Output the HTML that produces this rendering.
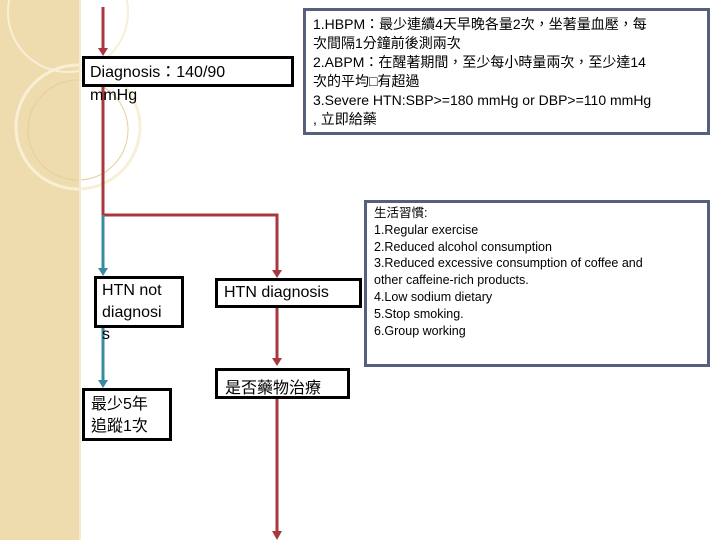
<!DOCTYPE html>
<html><head><meta charset="utf-8"><style>
body{margin:0;width:720px;height:540px;position:relative;background:#fff;overflow:hidden;font-family:"Liberation Sans","Noto Sans CJK TC",sans-serif;}
.b{position:absolute;box-sizing:border-box;background:#fff;}
.k{border:3px solid #000;}
.s{border:3px solid #56607e;}
</style></head><body>
<svg width="720" height="540" style="position:absolute;left:0;top:0">
<rect x="0" y="0" width="79" height="540" fill="#eedcae"/>
<circle cx="68" cy="12" r="60" fill="none" stroke="#f8efd6" stroke-width="2"/>
<circle cx="78" cy="127" r="62" fill="none" stroke="#f8efd6" stroke-width="3"/>
<circle cx="78" cy="130" r="50" fill="none" stroke="#e3cf9e" stroke-width="1"/>
<rect x="79" y="0" width="2" height="540" fill="#f3ead2"/>
<g stroke="#a8383d" stroke-width="3" fill="none">
<path d="M103 7V50"/><path d="M103 86V215H277V272"/><path d="M277 306V361"/><path d="M277 398V533"/>
</g>
<g fill="#a8383d">
<path d="M98 48L108 48L103 56Z"/><path d="M272 270L282 270L277 278Z"/><path d="M272 358L282 358L277 366Z"/><path d="M272 531L282 531L277 540Z"/>
</g>
<g stroke="#3b8aa3" stroke-width="3" fill="none"><path d="M103 215V272"/><path d="M103 327V382"/></g>
<g fill="#3b8aa3"><path d="M98 268L108 268L103 276Z"/><path d="M98 380L108 380L103 388Z"/></g>
</svg>
<div class="b k" style="left:82px;top:56px;width:212px;height:31px;"></div>
<div style="position:absolute;left:90px;top:61px;font-size:16px;line-height:23px;">Diagnosis：140/90<br>mmHg</div>
<div class="b k" style="left:94px;top:276px;width:90px;height:52px;"></div>
<div style="position:absolute;left:102px;top:280px;font-size:16px;line-height:22px;white-space:nowrap;">HTN not<br>diagnosi<br>s</div>
<div class="b k" style="left:82px;top:388px;width:90px;height:53px;font-size:16px;line-height:22px;padding:3px 0 0 6px;">最少5年<br>追蹤1次</div>
<div class="b k" style="left:215px;top:278px;width:147px;height:30px;font-size:16px;padding:3px 0 0 6px;">HTN diagnosis</div>
<div class="b k" style="left:215px;top:368px;width:135px;height:31px;font-size:16px;padding:3px 0 0 7px;">是否藥物治療</div>
<div class="b s" style="left:303px;top:8px;width:407px;height:127px;font-size:14px;line-height:19px;padding:4px 0 0 7px;">1.HBPM：最少連續4天早晚各量2次，坐著量血壓，每<br>次間隔1分鐘前後測兩次<br>2.ABPM：在醒著期間，至少每小時量兩次，至少達14<br>次的平均□有超過<br>3.Severe HTN:SBP&gt;=180 mmHg or DBP&gt;=110 mmHg<br>, 立即給藥</div>
<div class="b s" style="left:364px;top:200px;width:346px;height:167px;font-size:12.5px;line-height:16.8px;padding:2px 0 0 7px;">生活習慣:<br>1.Regular exercise<br>2.Reduced alcohol consumption<br>3.Reduced excessive consumption of coffee and<br>other caffeine-rich products.<br>4.Low sodium dietary<br>5.Stop smoking.<br>6.Group working</div>
</body></html>
